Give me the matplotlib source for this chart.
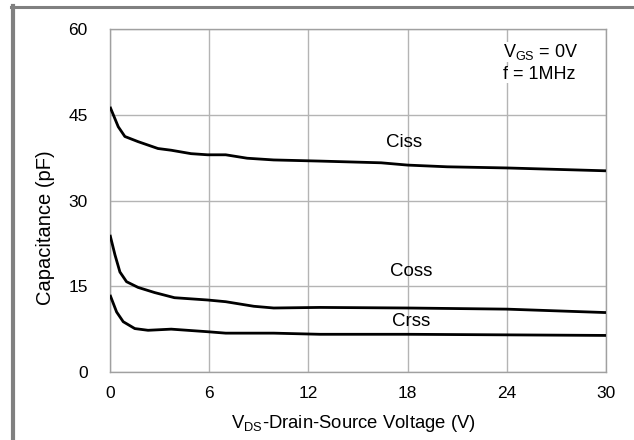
import matplotlib.pyplot as plt
from matplotlib.lines import Line2D

plt.rcParams['font.family'] = ['Liberation Sans', 'DejaVu Sans']
plt.rcParams['mathtext.fontset'] = 'custom'
plt.rcParams['mathtext.rm'] = 'Liberation Sans'
plt.rcParams['mathtext.it'] = 'Liberation Sans'

# values (V, pF)
vds_ciss = [0, 0.2, 0.5, 0.9, 1.7, 2.9, 3.7, 4.9, 5.9, 7.0, 8.3, 9.9, 12.7, 16.4, 18.0, 20.4, 24.0, 30.0]
ciss = [46.4, 45.0, 42.9, 41.2, 40.3, 39.1, 38.8, 38.2, 38.0, 38.0, 37.4, 37.1, 36.9, 36.6, 36.2, 35.9, 35.7, 35.2]

vds_coss = [0, 0.3, 0.6, 1.0, 1.7, 2.7, 3.9, 5.9, 7.0, 8.7, 9.9, 12.7, 18.0, 24.0, 30.0]
coss = [24.0, 20.5, 17.5, 15.8, 14.8, 13.9, 13.0, 12.6, 12.3, 11.5, 11.2, 11.3, 11.2, 11.0, 10.4]

vds_crss = [0, 0.4, 0.8, 1.5, 2.3, 3.7, 5.9, 7.0, 9.9, 12.7, 18.0, 24.0, 30.0]
crss = [13.5, 10.5, 8.8, 7.6, 7.3, 7.5, 7.05, 6.8, 6.8, 6.6, 6.6, 6.5, 6.4]

x_ticks = [0, 6, 12, 18, 24, 30]
y_ticks = [0, 15, 30, 45, 60]

fig = plt.figure(figsize=(6.34, 4.40), dpi=100)
ax = fig.add_axes([0.1735, 0.1545, 0.7823, 0.7795])

for v, c in [(vds_ciss, ciss), (vds_coss, coss), (vds_crss, crss)]:
    ax.plot(v, c, color='black', lw=2.0, solid_capstyle='butt',
            solid_joinstyle='round', zorder=3)

ax.set_xlim(0, 30)
ax.set_ylim(0, 60)
ax.set_xticks(x_ticks)
ax.set_yticks(y_ticks)
ax.grid(True, color='#b4b4b4', lw=1.0)
ax.tick_params(length=0, labelsize=12.5, colors='black')
ax.tick_params(axis='y', pad=16)
ax.tick_params(axis='x', pad=10)
for s in ax.spines.values():
    s.set_color('#a0a0a0')
    s.set_linewidth(1.0)

ax.set_xlabel(r'V$_{\mathrm{DS}}$-Drain-Source Voltage (V)', fontsize=13.3)
ax.set_ylabel('Capacitance (pF)', fontsize=14.5)
ax.xaxis.set_label_coords(0.491, -0.149)
ax.xaxis.label.set_va('center')
ax.yaxis.set_label_coords(-0.131, 0.421)
ax.yaxis.label.set_va('center')

ax.text(17.8, 40.2, 'Ciss', fontsize=13.5, ha='center', va='center')
ax.text(18.2, 17.5, 'Coss', fontsize=13.5, ha='center', va='center')
ax.text(18.2, 8.9, 'Crss', fontsize=13.5, ha='center', va='center')
ax.text(23.8, 56.0, r'V$_{\mathrm{GS}}$ = 0V', fontsize=13, ha='left', va='center',
        bbox=dict(fc='white', ec='none', pad=0))
ax.text(23.8, 52.0, 'f = 1MHz', fontsize=13, ha='left', va='center',
        bbox=dict(fc='white', ec='none', pad=0))

# gray frame of the original screenshot (left and top)
fig.add_artist(Line2D([13 / 634, 13 / 634], [0, 1 - 6 / 440], transform=fig.transFigure,
                      color='#808080', lw=3.0))
fig.add_artist(Line2D([11 / 634, 1], [1 - 7 / 440, 1 - 7 / 440], transform=fig.transFigure,
                      color='#808080', lw=2.2))

fig.savefig('out.png', dpi=100)
